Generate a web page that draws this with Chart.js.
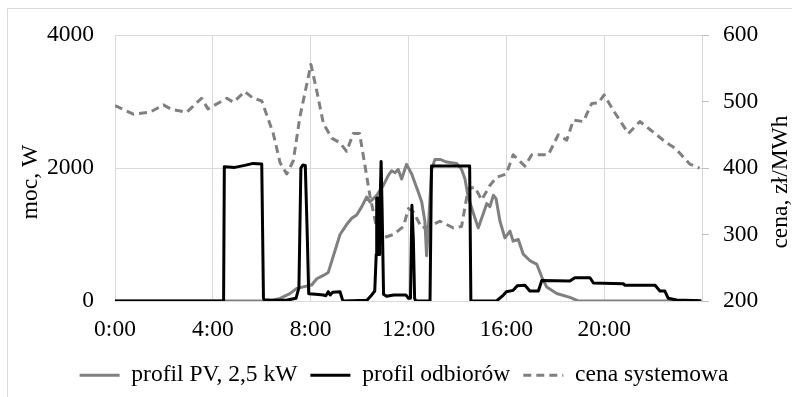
<!DOCTYPE html>
<html><head><meta charset="utf-8">
<script src="https://cdn.jsdelivr.net/npm/chart.js@4.4.0/dist/chart.umd.min.js"></script>
<style>html,body{margin:0;padding:0;background:#fff;}canvas{display:block;}</style>
</head><body>
<canvas id="c" width="792" height="397"></canvas>
<script>
// ---- data (time in hours) ----
const xTickHours = [0, 4, 8, 12, 16, 20];
const seriesNames = ['profil PV, 2,5 kW', 'profil odbiorów', 'cena systemowa'];
const axisTitles = ['moc, W', 'cena, zł/MWh'];

const pvTime  = [0, 6.3, 6.75, 7.15, 7.43, 8.04, 8.25, 8.52, 8.72, 8.93, 9.2, 9.47, 9.68, 9.88, 10.09, 10.29, 10.42, 10.7, 10.97, 11.17, 11.31, 11.45, 11.58, 11.72, 11.92, 12.13, 12.4, 12.54, 12.67, 12.74, 12.81, 12.95, 13.08, 13.29, 13.56, 13.97, 14.17, 14.31, 14.44, 14.72, 14.85, 15.06, 15.2, 15.33, 15.47, 15.58, 15.74, 15.94, 16.15, 16.28, 16.49, 16.69, 16.97, 17.24, 17.45, 17.65, 18.06, 18.6, 18.94, 24];
const pvPower = [0, 0, 40, 110, 190, 240, 335, 385, 430, 680, 1000, 1150, 1245, 1295, 1420, 1565, 1490, 1590, 1740, 1885, 1960, 1930, 1980, 1835, 2056, 1910, 1640, 1490, 1200, 680, 1100, 1980, 2130, 2130, 2090, 2070, 1980, 1835, 1560, 1245, 1100, 1318, 1466, 1420, 1590, 1540, 1200, 950, 1050, 900, 925, 704, 605, 556, 360, 210, 113, 54, 0, 0];

const loadTime  = [0, 4.44, 4.47, 4.9, 5.3, 5.65, 6.0, 6.07, 6.1, 6.4, 7.0, 7.4, 7.52, 7.6, 7.68, 7.78, 7.86, 7.92, 8.2, 8.52, 8.62, 8.72, 8.8, 8.9, 9.2, 9.3, 9.35, 10.3, 10.45, 10.62, 10.68, 10.7, 10.72, 10.74, 10.76, 10.78, 10.8, 10.82, 10.84, 10.88, 10.92, 10.98, 11.1, 11.4, 11.9, 12.0, 12.08, 12.14, 12.2, 12.25, 12.3, 12.88, 12.94, 14.5, 14.55, 15.6, 15.88, 16.0, 16.28, 16.45, 16.76, 16.96, 17.31, 17.45, 18.6, 18.8, 19.42, 19.56, 20.78, 20.85, 22.08, 22.28, 22.48, 22.62, 22.96, 23.95];
const loadPower = [0, 0, 2020, 2010, 2040, 2070, 2060, 40, 20, 10, 10, 40, 200, 2000, 2045, 2040, 1000, 110, 100, 90, 80, 140, 90, 130, 140, 20, 0, 10, 70, 150, 700, 1550, 700, 1550, 700, 1550, 700, 1550, 1500, 2100, 1400, 100, 70, 90, 90, 40, 40, 1440, 900, 40, 0, 0, 2030, 2030, 0, 0, 90, 140, 160, 230, 236, 150, 150, 310, 300, 350, 350, 270, 260, 236, 236, 150, 150, 40, 15, 5];

const priceTime   = [0, 0.75, 1.43, 1.98, 2.32, 2.93, 3.54, 3.8, 4.57, 4.84, 5.31, 5.65, 6.0, 6.47, 6.75, 7.02, 7.29, 7.56, 7.84, 8.01, 8.25, 8.52, 8.86, 9.2, 9.47, 9.74, 10.0, 10.2, 10.42, 10.7, 10.97, 11.38, 11.79, 12.0, 12.2, 12.54, 12.81, 13.29, 13.83, 14.17, 14.44, 14.72, 14.99, 15.33, 15.6, 16.0, 16.28, 16.76, 17.04, 17.72, 18.12, 18.47, 18.74, 19.15, 19.49, 19.76, 20.0, 20.37, 20.99, 21.46, 21.87, 22.55, 22.9, 23.5, 23.9];
const priceValues = [494, 481, 484, 495, 488, 484, 505, 489, 505, 499, 515, 505, 501, 452, 408, 391, 411, 477, 526, 556, 516, 467, 445, 438, 425, 452, 452, 408, 359, 310, 295, 300, 312, 339, 334, 310, 312, 320, 310, 312, 369, 371, 352, 374, 386, 391, 420, 403, 420, 420, 450, 442, 472, 470, 497, 498, 510, 487, 452, 470, 458, 438, 430, 406, 400];

// ---- chart ----
const FONT_FAMILY = '"Liberation Serif", "Times New Roman", serif';
const FONT_SIZE = 23.5;
const GRID = '#d9d9d9';
const LEGEND_PAD = 13;
const toXY = (xs, ys) => xs.map((x, i) => ({x: x, y: ys[i]}));

const framePlugin = {
  id: 'frame',
  beforeDraw(chart) {
    const ctx = chart.ctx;
    ctx.save();
    ctx.fillStyle = '#fff';
    ctx.fillRect(0, 0, chart.width, chart.height);
    ctx.strokeStyle = GRID;
    ctx.lineWidth = 1;
    ctx.beginPath();
    ctx.moveTo(7.5, chart.height);
    ctx.lineTo(7.5, 8.5);
    ctx.lineTo(chart.width, 8.5);
    ctx.stroke();
    ctx.restore();
  },
  afterDraw(chart) {
    const ctx = chart.ctx;
    const a = chart.chartArea;
    const cy = (a.top + a.bottom) / 2 + 14;
    [[31, axisTitles[0]], [781, axisTitles[1]]].forEach(([x, t]) => {
      ctx.save();
      ctx.font = FONT_SIZE + 'px ' + FONT_FAMILY;
      ctx.fillStyle = '#000';
      ctx.textAlign = 'center';
      ctx.textBaseline = 'middle';
      ctx.translate(x, cy);
      ctx.rotate(-Math.PI / 2);
      ctx.fillText(t, 0, 0);
      ctx.restore();
    });
  }
};

new Chart(document.getElementById('c'), {
  type: 'line',
  data: {
    datasets: [
      {label: seriesNames[0], data: toXY(pvTime, pvPower), yAxisID: 'y', borderColor: '#808080', backgroundColor: '#808080', borderWidth: 3, order: 2},
      {label: seriesNames[1], data: toXY(loadTime, loadPower), yAxisID: 'y', borderColor: '#000000', backgroundColor: '#000000', borderWidth: 3, order: 0},
      {label: seriesNames[2], data: toXY(priceTime, priceValues), yAxisID: 'y1', borderColor: '#808080', backgroundColor: '#808080', borderWidth: 3, borderDash: [8, 5], borderCapStyle: 'butt', order: 1}
    ]
  },
  options: {
    responsive: false,
    devicePixelRatio: 1,
    animation: false,
    layout: {padding: {left: 16, right: 0, top: 30, bottom: 0}},
    elements: {point: {radius: 0}, line: {tension: 0, borderJoinStyle: 'round', fill: false}},
    plugins: {
      tooltip: {enabled: false},
      legend: {
        position: 'bottom',
        labels: {
          generateLabels: (chart) => chart.data.datasets.map((ds, i) => ({
            text: ds.label, datasetIndex: i, hidden: false,
            fillStyle: ds.borderColor, strokeStyle: ds.borderColor,
            lineWidth: ds.borderWidth, lineDash: ds.borderDash || [],
            lineCap: 'butt', pointStyle: 'line', fontColor: '#000'
          })),
          usePointStyle: true,
          pointStyle: 'line',
          pointStyleWidth: 40,
          boxHeight: 10,
          padding: LEGEND_PAD,
          color: '#000',
          font: {family: FONT_FAMILY, size: FONT_SIZE}
        }
      }
    },
    scales: {
      x: {
        type: 'linear', min: 0, max: 24, position: 'bottom',
        afterBuildTicks: (s) => { s.ticks = xTickHours.concat([24]).map(v => ({value: v})); },
        ticks: {
          autoSkip: false, maxRotation: 0, padding: 15, color: '#000',
          font: {family: FONT_FAMILY, size: FONT_SIZE},
          callback: (v) => xTickHours.includes(v) ? v + ':00' : ''
        },
        grid: {color: GRID, drawTicks: false},
        border: {display: false},
        afterFit: (s) => { s.height = 397 - (FONT_SIZE + LEGEND_PAD + 10) - 301; }
      },
      y: {
        position: 'left', min: 0, max: 4000,
        ticks: {stepSize: 2000, padding: 21, color: '#000', font: {family: FONT_FAMILY, size: FONT_SIZE}, callback: (v) => String(v)},
        grid: {color: GRID, drawTicks: false},
        border: {display: false},
        afterFit: (s) => { s.width = 99; }
      },
      y1: {
        position: 'right', min: 200, max: 600,
        ticks: {stepSize: 100, padding: 14, color: '#000', font: {family: FONT_FAMILY, size: FONT_SIZE}, callback: (v) => String(v)},
        grid: {drawOnChartArea: false, color: '#bfbfbf', drawTicks: true, tickLength: 7},
        border: {display: false},
        afterFit: (s) => { s.width = 90; }
      }
    }
  },
  plugins: [framePlugin]
});
</script>
</body></html>
